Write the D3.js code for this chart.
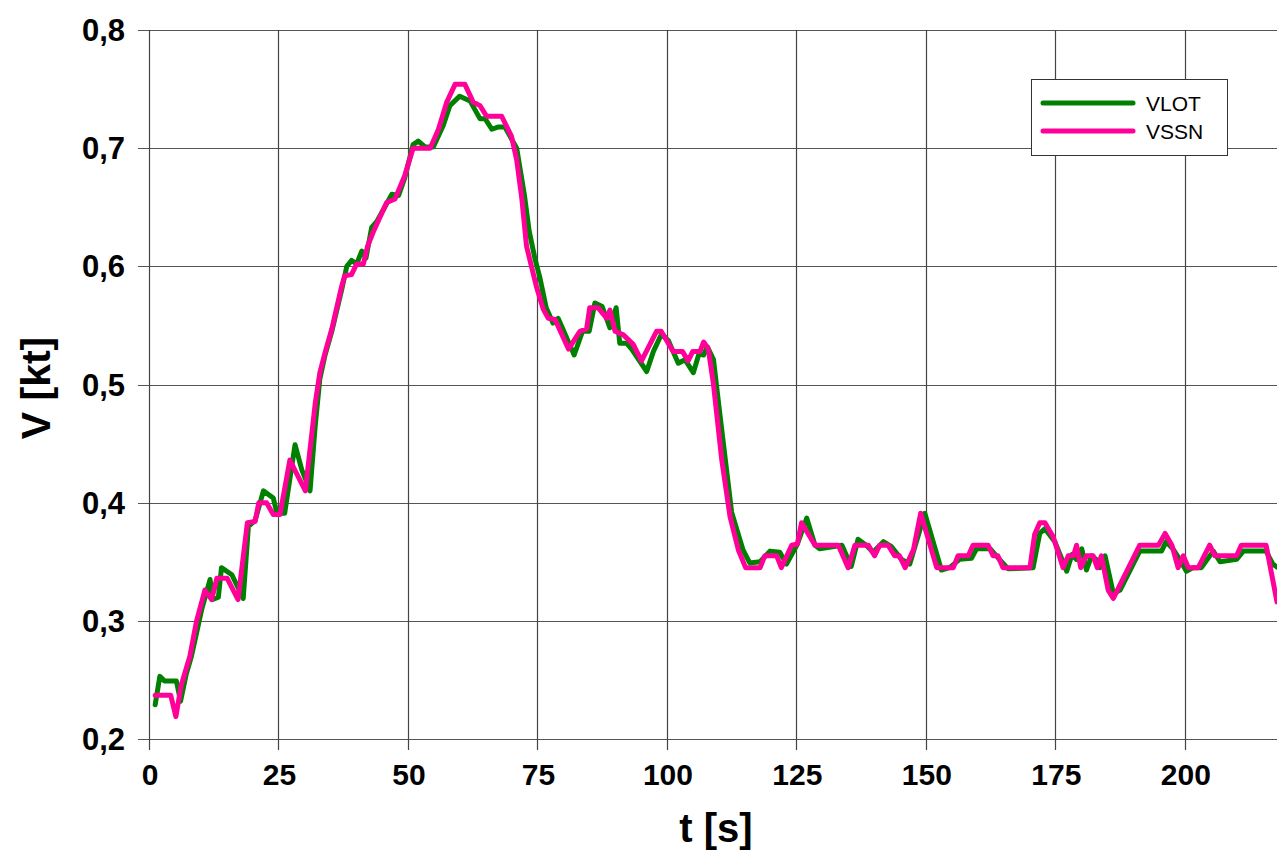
<!DOCTYPE html>
<html>
<head>
<meta charset="utf-8">
<script src="https://cdn.jsdelivr.net/npm/d3@7"></script>
<style>
html,body{margin:0;padding:0;background:#fff;}
svg{display:block;}
text{font-family:"Liberation Sans",Arial,sans-serif;}
</style>
</head>
<body>
<svg id="chart" width="1277" height="850"></svg>
<script>
// ---- data ----
const seriesNames = ["VLOT", "VSSN"];
const seriesColors = ["#008000", "#ff0099"];
const xTicks = [0, 25, 50, 75, 100, 125, 150, 175, 200];
const yTicks = [0.2, 0.3, 0.4, 0.5, 0.6, 0.7, 0.8];

const tVLOT = [1,1.9,2.8,5.1,5.9,7,8,9,10,11.6,12.1,13.2,13.8,15.8,18,19,20.3,21.9,23.8,24.5,26,28,29.3,30.9,31.9,32.8,33.8,35.1,37,38,38.9,39.9,40.9,41.7,42.8,43.8,46.7,48,49.2,50.8,51.8,53.1,54.7,56.6,57.9,59.8,61.8,63.7,64.7,66,67.3,68.5,70.8,72.3,73.2,74.3,75.3,76.5,77.8,78.8,81.9,83.5,84.8,85.9,87.3,88.8,90,90.7,92,93,95.9,97.2,98.8,100.1,102,103.3,104.9,106,106.9,107.6,108.8,110,112.3,114.5,115.8,117.8,119.7,121.6,122.9,125,126.8,128.4,129.3,133.6,135.4,136.7,138.3,139.6,141.6,143.1,145.1,146.7,149.6,152.8,154.4,156.3,158.6,159.6,162.2,163.8,165.7,170.5,171.8,172.8,174.7,177,178,178.9,179.9,180.8,181.8,182.7,183.4,184.4,186,187.3,191.1,195.3,196.2,197.5,198.8,200.1,201.4,203,205.3,206.6,209.8,211.1,215.5,216.8,217.8];
const vVLOT = [0.229,0.253,0.249,0.249,0.232,0.255,0.27,0.29,0.31,0.335,0.318,0.32,0.345,0.339,0.319,0.38,0.385,0.41,0.404,0.391,0.391,0.449,0.428,0.41,0.465,0.505,0.525,0.545,0.58,0.6,0.605,0.602,0.613,0.607,0.633,0.638,0.661,0.66,0.675,0.703,0.706,0.701,0.701,0.719,0.736,0.744,0.74,0.725,0.725,0.716,0.718,0.718,0.7,0.66,0.63,0.607,0.59,0.565,0.552,0.556,0.525,0.545,0.545,0.569,0.566,0.548,0.565,0.535,0.535,0.53,0.511,0.528,0.543,0.537,0.518,0.521,0.51,0.526,0.525,0.532,0.521,0.476,0.392,0.36,0.349,0.35,0.359,0.358,0.348,0.365,0.387,0.364,0.361,0.364,0.346,0.369,0.364,0.358,0.367,0.363,0.352,0.348,0.391,0.343,0.345,0.352,0.353,0.361,0.361,0.353,0.344,0.345,0.374,0.378,0.367,0.342,0.356,0.352,0.361,0.343,0.355,0.352,0.345,0.355,0.323,0.326,0.359,0.359,0.367,0.361,0.352,0.342,0.345,0.345,0.359,0.35,0.352,0.359,0.359,0.348,0.345];

const tVSSN = [1,4,5,6,7.7,9,10.6,11.9,12.9,14.9,17,18.8,20.3,21,22.5,23.8,25.1,27,30,31.9,32.8,33.8,35.1,37,37.6,38.9,39.9,41.2,42,43.1,45.7,47.3,49.2,50.8,54.1,55.7,57.3,58.9,60.8,62.4,63.7,65,67.9,69.8,70.8,71.8,72.7,74.6,75.9,76.9,78.2,80.8,83,84.3,84.9,86.5,88.2,88.8,89.8,91.4,93.3,94.9,97.8,98.7,101,102.8,103.9,104.8,106.2,106.9,107.8,108.8,110.4,112,113.6,115,117.8,118.7,121,121.9,123.9,125,125.8,128.4,132.9,134.8,136.1,138.7,139.9,140.9,142.5,143.8,144.7,145.8,147.4,148.8,151.9,155.1,156,158,158.9,161.8,162.8,163.7,164.7,169.9,170.8,171.8,172.8,174.4,176.3,177.3,178.3,178.9,179.7,180.8,182.1,182.9,183.7,185,186,188.6,191.1,194.7,196,197.3,198.5,199.5,200.5,202.4,204.6,205.6,209.8,210.7,215.5,217.6];
const vVSSN = [0.237,0.237,0.219,0.245,0.27,0.3,0.326,0.318,0.336,0.336,0.318,0.383,0.384,0.4,0.4,0.39,0.39,0.436,0.41,0.484,0.51,0.527,0.547,0.583,0.592,0.593,0.602,0.602,0.617,0.629,0.654,0.657,0.677,0.7,0.7,0.716,0.739,0.754,0.754,0.739,0.736,0.727,0.727,0.71,0.69,0.657,0.617,0.583,0.564,0.556,0.555,0.53,0.545,0.547,0.565,0.565,0.556,0.563,0.545,0.542,0.534,0.52,0.545,0.545,0.528,0.528,0.52,0.528,0.528,0.536,0.53,0.5,0.436,0.388,0.36,0.345,0.345,0.355,0.355,0.345,0.364,0.365,0.383,0.364,0.364,0.345,0.364,0.364,0.355,0.364,0.364,0.355,0.355,0.345,0.36,0.391,0.345,0.345,0.355,0.355,0.364,0.364,0.355,0.355,0.345,0.345,0.373,0.383,0.383,0.371,0.345,0.355,0.355,0.364,0.345,0.355,0.355,0.345,0.355,0.326,0.319,0.342,0.364,0.364,0.374,0.364,0.345,0.355,0.345,0.345,0.364,0.355,0.355,0.364,0.364,0.316];

// ---- layout ----
const svg = d3.select("#chart");
const pL = 150, pR = 1277, pT = 30, pB = 739;
const x = d3.scaleLinear().domain([0, 217.6]).range([pL, pR]);
const y = d3.scaleLinear().domain([0.2, 0.8]).range([pB, pT]);
const fmt = v => d3.format(".1f")(v).replace(".", ",");

// grid
const grid = svg.append("g");
grid.selectAll("line.h").data(yTicks).join("line")
  .attr("x1", pL - 12).attr("x2", pR)
  .attr("y1", d => Math.round(y(d)) + 0.5).attr("y2", d => Math.round(y(d)) + 0.5)
  .attr("stroke", "#555").attr("stroke-width", 1.2);
grid.selectAll("line.v").data(xTicks).join("line")
  .attr("x1", d => Math.round(x(d)) - 0.5).attr("x2", d => Math.round(x(d)) - 0.5)
  .attr("y1", pT).attr("y2", pB + 11)
  .attr("stroke", "#444").attr("stroke-width", 1.2);

// tick labels
svg.append("g").selectAll("text").data(yTicks).join("text")
  .attr("x", 125).attr("y", d => y(d)).attr("dy", "0.36em")
  .attr("text-anchor", "end").attr("font-weight", "bold").attr("font-size", 31)
  .attr("fill", "#000").text(fmt);
svg.append("g").selectAll("text").data(xTicks).join("text")
  .attr("x", d => x(d)).attr("y", 785)
  .attr("text-anchor", "middle").attr("font-weight", "bold").attr("font-size", 30)
  .attr("fill", "#000").text(d => d);

// axis titles
svg.append("text").attr("x", 716).attr("y", 842).attr("text-anchor", "middle")
  .attr("font-weight", "bold").attr("font-size", 40).text("t [s]");
svg.append("text").attr("transform", "translate(50,388) rotate(-90)")
  .attr("text-anchor", "middle").attr("font-weight", "bold").attr("font-size", 41).text("V [kt]");

// lines
svg.append("clipPath").attr("id", "clip").append("rect")
  .attr("x", pL).attr("y", 0).attr("width", pR - pL).attr("height", pB + 5);
const line = d3.line().x(d => x(d[0])).y(d => y(d[1]));
const seriesData = [
  d3.zip(tVLOT, vVLOT),
  d3.zip(tVSSN, vVSSN)
];
seriesData.forEach((s, i) => {
  svg.append("path").datum(s).attr("d", line)
    .attr("fill", "none").attr("stroke", seriesColors[i]).attr("stroke-width", 5)
    .attr("stroke-linejoin", "round").attr("stroke-linecap", "round")
    .attr("clip-path", "url(#clip)");
});

// legend
const lg = svg.append("g");
lg.append("rect").attr("x", 1031.5).attr("y", 79.5).attr("width", 196).attr("height", 76)
  .attr("fill", "#fff").attr("stroke", "#333").attr("stroke-width", 1);
seriesNames.forEach((n, i) => {
  const yy = 103 + i * 28;
  lg.append("line").attr("x1", 1043).attr("x2", 1133).attr("y1", yy).attr("y2", yy)
    .attr("stroke", seriesColors[i]).attr("stroke-width", 5).attr("stroke-linecap", "round");
  lg.append("text").attr("x", 1146).attr("y", yy + 7.5).attr("font-size", 21).attr("fill", "#000").text(n);
});
</script>
</body>
</html>
